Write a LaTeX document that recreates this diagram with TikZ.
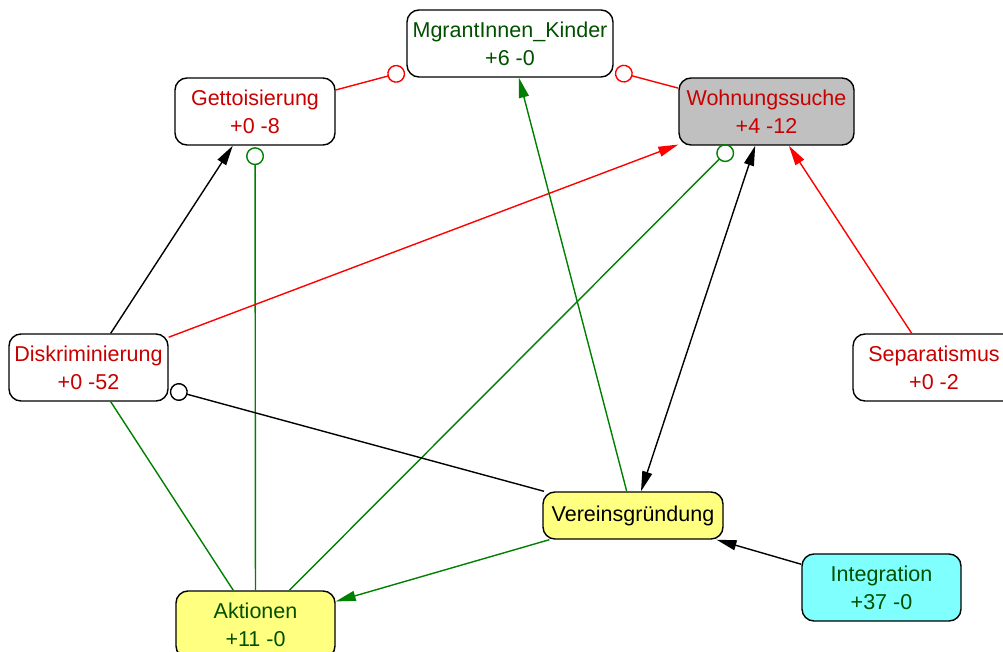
\documentclass[tikz,border=0pt]{standalone}
\usepackage{fontspec}
\setmainfont{Liberation Sans}
\usetikzlibrary{arrows.meta}
\definecolor{txtred}{RGB}{200,0,0}
\definecolor{txtgreen}{RGB}{0,80,0}
\definecolor{edgered}{RGB}{255,0,0}
\definecolor{edgegreen}{RGB}{0,128,0}
\definecolor{boxgray}{RGB}{192,192,192}
\definecolor{boxyellow}{RGB}{255,255,128}
\definecolor{boxcyan}{RGB}{128,255,255}
\begin{document}
\begin{tikzpicture}[x=1pt,y=-1pt,
  concept/.style={draw=black, line width=1.4pt, rounded corners=12pt, fill=white,
    align=center, inner sep=0pt, minimum height=67pt,
    font=\fontsize{21.5}{28}\selectfont},
  link/.style={line width=1.4pt},
  causal/.style={-{Triangle[length=20pt,width=10pt]}},
  mutual/.style={{Triangle[length=20pt,width=10pt]}-{Triangle[length=20pt,width=10pt]}},
  ring/.style={-{Circle[open,length=18pt,line width=1.4pt]}, shorten >=1.5pt}]
\useasboundingbox (0,0) rectangle (1003,652);
\fill[white] (0,0) rectangle (1003,652);

% concepts
\node[concept, minimum width=206pt, text=txtgreen] (mk) at (510,43.5) {MgrantInnen\_Kinder\\+6 -0};
\node[concept, minimum width=160pt, text=txtred] (ge) at (255,111.5) {Gettoisierung\\+0 -8};
\node[concept, minimum width=175pt, text=txtred, fill=boxgray] (wo) at (766.5,111.5) {Wohnungssuche\\+4 -12};
\node[concept, minimum width=159pt, text=txtred] (di) at (88.5,367.5) {Diskriminierung\\+0 -52};
\node[concept, minimum width=162pt, text=txtred] (se) at (934,367.5) {Separatismus\\+0 -2};
\node[concept, minimum width=180pt, minimum height=47pt, text=black, fill=boxyellow] (ve) at (633,515.5) {Vereinsgründung};
\node[concept, minimum width=159pt, text=txtgreen, fill=boxyellow] (ak) at (255.5,624.5) {Aktionen\\+11 -0};
\node[concept, minimum width=159pt, text=txtgreen, fill=boxcyan] (in) at (881.5,587.5) {Integration\\+37 -0};

% connections
\draw[link, edgered, ring] (ge) -- (mk);
\draw[link, edgered, ring] (wo) -- (mk);
\draw[link, black, causal] (di) -- (ge);
\draw[link, edgegreen, ring] (ak) -- (ge);
\draw[link, edgered, causal] (di) -- (wo);
\draw[link, edgegreen, ring] (ak) -- (wo);
\draw[link, black, mutual] (ve) -- (wo);
\draw[link, edgered, causal] (se) -- (wo);
\draw[link, edgegreen, causal] (ve) -- (mk);
\draw[link, black, ring] (ve) -- (di);
\draw[link, edgegreen] (di) -- (ak);
\draw[link, edgegreen, causal] (ve) -- (ak);
\draw[link, black, causal] (in) -- (ve);
\end{tikzpicture}
\end{document}
